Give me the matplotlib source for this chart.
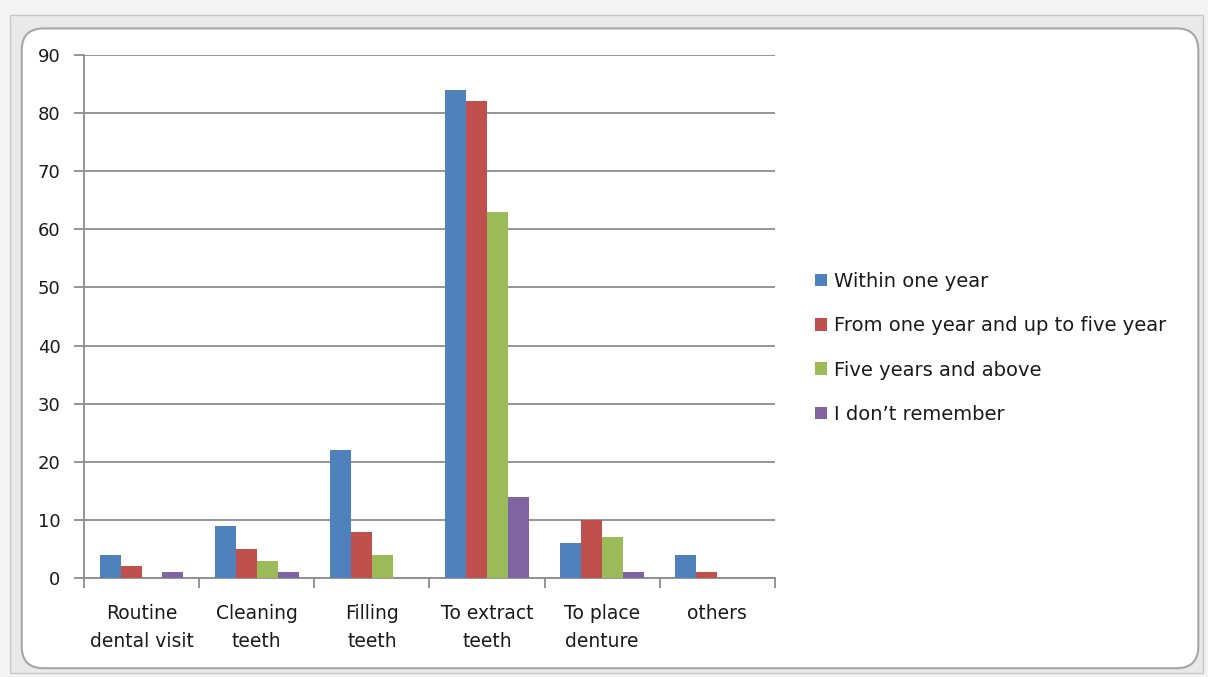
import numpy as np
import matplotlib.pyplot as plt
from matplotlib.patches import FancyBboxPatch, Rectangle

categories = ["Routine\ndental visit", "Cleaning\nteeth", "Filling\nteeth",
              "To extract\nteeth", "To place\ndenture", "others"]
series_names = ["Within one year", "From one year and up to five year",
                "Five years and above", "I don\u2019t remember"]
within_one_year = [4, 9, 22, 84, 6, 4]
one_to_five_years = [2, 5, 8, 82, 10, 1]
five_years_above = [0, 3, 4, 63, 7, 0]
dont_remember = [1, 1, 0, 14, 1, 0]
y_ticks = [0, 10, 20, 30, 40, 50, 60, 70, 80, 90]

colors = ["#4F81BD", "#C0504D", "#9BBB59", "#8064A2"]
values = [within_one_year, one_to_five_years, five_years_above, dont_remember]

fig = plt.figure(figsize=(12.08, 6.77), dpi=100)
fig.patch.set_facecolor("#f3f3f3")

# spreadsheet frame and chart area, kept behind the axes
fig.patches.append(Rectangle((0.008, 0.006), 0.988, 0.972, transform=fig.transFigure,
                             facecolor="#e9e9e9", edgecolor="#c8c8c8", lw=1.0, zorder=-2))
fig.patches.append(FancyBboxPatch((0.018, 0.013), 0.974, 0.945,
                                  boxstyle="round,pad=0,rounding_size=0.018",
                                  transform=fig.transFigure, facecolor="white",
                                  edgecolor="#a6a6a6", lw=1.5, zorder=-1,
                                  mutation_aspect=1208 / 677))

ax = fig.add_axes([0.0695, 0.1462, 0.572, 0.7726])
ax.set_facecolor("none")

x = np.arange(len(categories))
width = 1 / 5.5
offsets = (np.arange(4) - 1.5) * width
for vals, off, col, name in zip(values, offsets, colors, series_names):
    ax.bar(x + off, vals, width, color=col, label=name, zorder=3)

ax.set_xlim(-0.5, len(categories) - 0.5)
ax.set_ylim(0, 90)
ax.set_yticks(y_ticks)
ax.yaxis.grid(True, color="#8c8c8c", lw=1.3, zorder=0)
ax.set_axisbelow(True)

# category boundaries carry the x tick marks
ax.set_xticks(np.arange(len(categories) + 1) - 0.5)
ax.set_xticklabels([])
ax.set_xticks(x, minor=True)
ax.set_xticklabels(categories, minor=True, fontsize=13.5, color="#1a1a1a",
                   linespacing=1.6)
ax.tick_params(axis="x", which="minor", length=0, pad=19)
ax.tick_params(axis="x", which="major", length=7, width=1.3, color="#8c8c8c")
ax.tick_params(axis="y", length=7, width=1.3, color="#8c8c8c", labelsize=13,
               labelcolor="#1a1a1a", pad=10)

for side in ("top", "right"):
    ax.spines[side].set_visible(False)
for side in ("left", "bottom"):
    ax.spines[side].set_color("#8c8c8c")
    ax.spines[side].set_linewidth(1.3)

leg = ax.legend(loc="center left", bbox_to_anchor=(1.058, 0.44), frameon=False,
                fontsize=14, handlelength=0.6, handleheight=0.6,
                handletextpad=0.4, labelspacing=1.3, borderpad=0,
                borderaxespad=0)
for t in leg.get_texts():
    t.set_color("#1a1a1a")

fig.savefig("out.png", dpi=100, facecolor=fig.get_facecolor())
